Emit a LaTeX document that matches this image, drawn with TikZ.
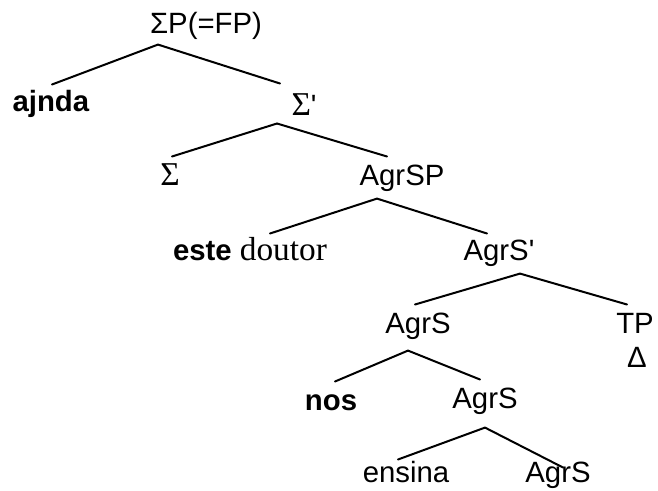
\documentclass[tikz,border=0pt]{standalone}
\usepackage{fontspec}
\setmainfont{Liberation Serif}
\setsansfont{Liberation Sans}
\usetikzlibrary{calc}

\tikzset{every picture/.style={line width=0.75pt}}
\tikzset{
	cat/.style={anchor=base, inner xsep=0pt, inner ysep=6pt, text height=15pt, font=\fontsize{22}{26}\selectfont\sffamily},
	branch/.style={line width=1.5pt, line cap=round},
}
\newcommand{\sigm}{{\fontsize{25}{28}\selectfont\rmfamily Σ}}

\begin{document}
\begin{tikzpicture}[x=0.75pt,y=0.75pt,yscale=-1,xscale=1]
	\useasboundingbox (0,0) rectangle (658,490);
	
	% Text Node
	\node [cat] (sp) at (206,33) {ΣP(=FP)};
	% Text Node
	\node [cat] (ajnda) at (51,111) {\textbf{ajnda}};
	% Text Node
	\node [cat] (sbar) at (304,115) {\sigm\textquotesingle};
	% Text Node
	\node [cat] (sig) at (170,185) {\sigm};
	% Text Node
	\node [cat] (agrsp) at (402,185) {AgrSP};
	% Text Node
	\node [cat] (este) at (250,260) {\textbf{este} {\fontsize{25}{28}\selectfont\rmfamily doutor}};
	% Text Node
	\node [cat] (agrsbar) at (499,260) {AgrS\textquotesingle};
	% Text Node
	\node [cat] (agrs) at (418,333) {AgrS};
	% Text Node
	\node [cat] (tp) at (635,333) {TP};
	% Text Node
	\node [cat] (tri) at (637,367) {Δ};
	% Text Node
	\node [cat] (nos) at (331,410) {\textbf{nos}};
	% Text Node
	\node [cat] (agrsh) at (485,408) {AgrS};
	% Text Node
	\node [cat] (ensina) at (406,482) {ensina};
	% Text Node
	\node [cat] (agrsl) at (558,482) {AgrS};
	
	%Straight Lines
	\draw [branch] ($(sp.south)+(-48,-3)$) -- ($(ajnda.north)+(1,2)$);
	\draw [branch] ($(sp.south)+(-48,-3)$) -- ($(sbar.north)+(-24,-3)$);
	%Straight Lines
	\draw [branch] ($(sbar.south)+(-27,0)$) -- ($(sig.north)+(2,0)$);
	\draw [branch] ($(sbar.south)+(-27,0)$) -- ($(agrsp.north)+(-15,0)$);
	%Straight Lines
	\draw [branch] ($(agrsp.south)+(-25,-1)$) -- ($(este.north)+(20,2)$);
	\draw [branch] ($(agrsp.south)+(-25,-1)$) -- ($(agrsbar.north)+(-12,2)$);
	%Straight Lines
	\draw [branch] ($(agrsbar.south)+(21,-1)$) -- ($(agrs.north)+(-3,0)$);
	\draw [branch] ($(agrsbar.south)+(21,-1)$) -- ($(tp.north)+(-8,0)$);
	%Straight Lines
	\draw [branch] ($(agrs.south)+(-10,3)$) -- ($(nos.north)+(4,0)$);
	\draw [branch] ($(agrs.south)+(-10,3)$) -- ($(agrsh.north)+(-5,0)$);
	%Straight Lines
	\draw [branch] ($(agrsh.south)+(0,5)$) -- ($(ensina.north)+(-8,6)$);
	\draw [branch] ($(agrsh.south)+(0,5)$) -- ($(agrsl.north)+(5,14)$);
	
\end{tikzpicture}
\end{document}
